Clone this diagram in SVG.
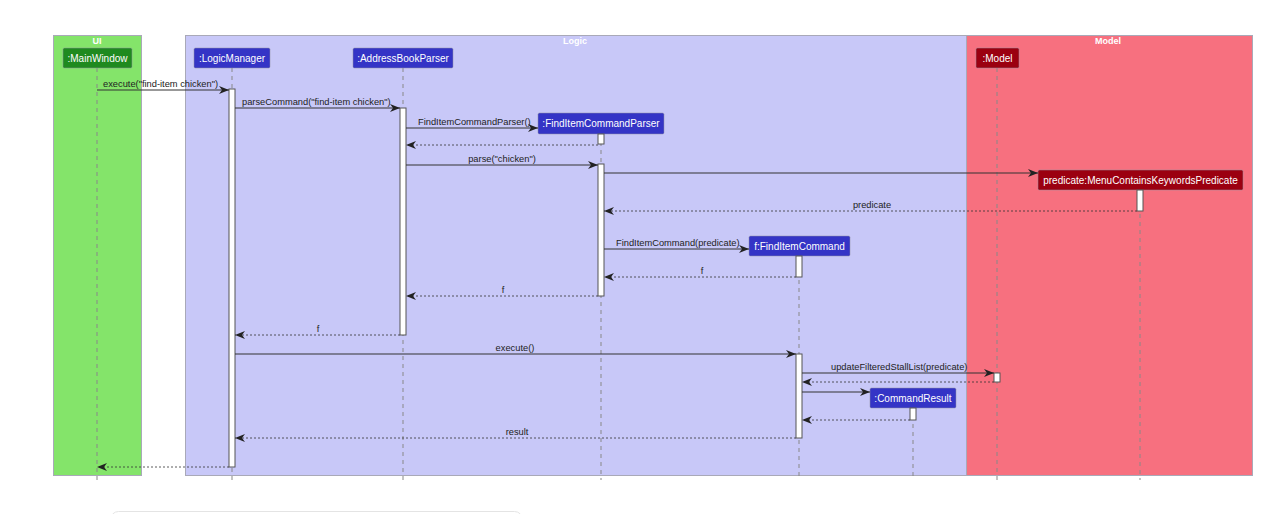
<svg xmlns="http://www.w3.org/2000/svg" width="1280" height="514" viewBox="0 0 1280 514">
<style>
text{font-family:"Liberation Sans","DejaVu Sans",sans-serif}
.grp{stroke:#a9a9b8;stroke-width:1}
.gt{font-size:9px;font-weight:bold;fill:#fff;text-anchor:middle}
.life{stroke:#888;stroke-width:1;stroke-dasharray:4,4;fill:none}
.act{fill:#fff;stroke:#555;stroke-width:1}
.pb{stroke:#9090a0;stroke-width:0.5}
.blue{fill:#3434c6}
.green{fill:#1f8a1f}
.red{fill:#9b0010}
.pt{font-size:10px;fill:#fff;text-anchor:middle}
.msg{stroke:#333;stroke-width:1;fill:none;marker-end:url(#ah)}
.ret{stroke:#333;stroke-width:0.8;stroke-dasharray:2,2;fill:none;marker-end:url(#ah)}
.ml{font-size:9.3px;fill:#222}
</style>
<defs>
<marker id="ah" markerWidth="10" markerHeight="8" refX="10" refY="4" orient="auto" markerUnits="userSpaceOnUse">
<path d="M0,0 L10,4 L0,8 L3,4 z" fill="#222"/>
</marker>
</defs>
<rect width="1280" height="514" fill="#fff"/>
<g id="box-ui">
<rect class="grp" x="53.5" y="35.5" width="88" height="440" fill="#84e46a"/>
<text class="gt" x="97" y="44">UI</text>
</g>
<g id="box-logic">
<rect class="grp" x="185.5" y="35.5" width="781" height="440" fill="#c8c8f8"/>
<text class="gt" x="575" y="44">Logic</text>
</g>
<g id="box-model">
<rect class="grp" x="966.5" y="35.5" width="286" height="440" fill="#f7707f"/>
<text class="gt" x="1108" y="44">Model</text>
</g>
<g id="lifelines">
<line class="life" x1="97" y1="68" x2="97" y2="480"/>
<line class="life" x1="232" y1="68" x2="232" y2="480"/>
<line class="life" x1="403" y1="68" x2="403" y2="480"/>
<line class="life" x1="601" y1="134" x2="601" y2="480"/>
<line class="life" x1="799" y1="256" x2="799" y2="480"/>
<line class="life" x1="913" y1="408" x2="913" y2="480"/>
<line class="life" x1="997" y1="68" x2="997" y2="480"/>
<line class="life" x1="1140" y1="190" x2="1140" y2="480"/>
</g>
<g id="MainWindow">
<rect class="green pb" x="63" y="48" width="69" height="20" rx="1.5"/>
<text class="pt" x="97.5" y="61.5">:MainWindow</text>
</g>
<g id="LogicManager">
<rect class="blue pb" x="194" y="48" width="76" height="20" rx="1.5"/>
<text class="pt" x="232" y="61.5">:LogicManager</text>
</g>
<g id="AddressBookParser">
<rect class="blue pb" x="353" y="48" width="100" height="20" rx="1.5"/>
<text class="pt" x="403" y="61.5">:AddressBookParser</text>
</g>
<g id="FindItemCommandParser">
<rect class="blue pb" x="538" y="113" width="126" height="21" rx="1.5"/>
<text class="pt" x="601" y="127">:FindItemCommandParser</text>
</g>
<g id="Predicate">
<rect class="red pb" x="1038" y="170" width="205" height="20" rx="1.5"/>
<text class="pt" x="1140.5" y="183.5">predicate:MenuContainsKeywordsPredicate</text>
</g>
<g id="Model">
<rect class="red pb" x="976" y="48" width="43" height="20" rx="1.5"/>
<text class="pt" x="997.5" y="61.5">:Model</text>
</g>
<g id="FindItemCommand">
<rect class="blue pb" x="749" y="236" width="101" height="20" rx="1.5"/>
<text class="pt" x="799.5" y="249.5">f:FindItemCommand</text>
</g>
<g id="CommandResult">
<rect class="blue pb" x="870" y="388" width="86" height="20" rx="1.5"/>
<text class="pt" x="913" y="401.5">:CommandResult</text>
</g>
<g id="activations">
<rect class="act" x="229" y="89" width="6" height="378"/>
<rect class="act" x="400" y="108" width="6" height="227"/>
<rect class="act" x="598" y="134" width="6" height="10"/>
<rect class="act" x="598" y="164" width="6" height="132"/>
<rect class="act" x="1137" y="190" width="6" height="21"/>
<rect class="act" x="796" y="256" width="6" height="21"/>
<rect class="act" x="796" y="354" width="6" height="84"/>
<rect class="act" x="994" y="373" width="6" height="9"/>
<rect class="act" x="910" y="408" width="6" height="12"/>
</g>
<g id="connectors">
<line class="msg" x1="97" y1="90" x2="229" y2="90"/>
<text class="ml" x="103" y="86.5">execute("find-item chicken")</text>
<line class="msg" x1="235" y1="108" x2="400" y2="108"/>
<text class="ml" x="242" y="105">parseCommand("find-item chicken")</text>
<line class="msg" x1="406" y1="128" x2="538" y2="128"/>
<text class="ml" x="418" y="124.5">FindItemCommandParser()</text>
<line class="ret" x1="598" y1="145" x2="406" y2="145"/>
<line class="msg" x1="406" y1="165" x2="598" y2="165"/>
<text class="ml" x="502" y="161.5" text-anchor="middle">parse("chicken")</text>
<line class="msg" x1="604" y1="173" x2="1038" y2="173"/>
<line class="ret" x1="1137" y1="211" x2="604" y2="211"/>
<text class="ml" x="872" y="208" text-anchor="middle">predicate</text>
<line class="msg" x1="604" y1="249" x2="749" y2="249"/>
<text class="ml" x="616" y="246">FindItemCommand(predicate)</text>
<line class="ret" x1="796" y1="277" x2="604" y2="277"/>
<text class="ml" x="702" y="273.5" text-anchor="middle">f</text>
<line class="ret" x1="598" y1="296" x2="406" y2="296"/>
<text class="ml" x="503" y="292.5" text-anchor="middle">f</text>
<line class="ret" x1="400" y1="335" x2="235" y2="335"/>
<text class="ml" x="318" y="331.5" text-anchor="middle">f</text>
<line class="msg" x1="235" y1="354" x2="796" y2="354"/>
<text class="ml" x="515" y="351" text-anchor="middle">execute()</text>
<line class="msg" x1="802" y1="373" x2="994" y2="373"/>
<text class="ml" x="831" y="370">updateFilteredStallList(predicate)</text>
<line class="ret" x1="994" y1="382" x2="802" y2="382"/>
<line class="msg" x1="802" y1="392" x2="870" y2="392"/>
<line class="ret" x1="910" y1="420" x2="802" y2="420"/>
<line class="ret" x1="796" y1="438" x2="235" y2="438"/>
<text class="ml" x="517" y="435" text-anchor="middle">result</text>
<line class="ret" x1="229" y1="467" x2="97" y2="467"/>
</g>
<rect x="110.5" y="511.5" width="412" height="20" rx="8" fill="none" stroke="#e4e4e4" stroke-width="1"/>
</svg>
